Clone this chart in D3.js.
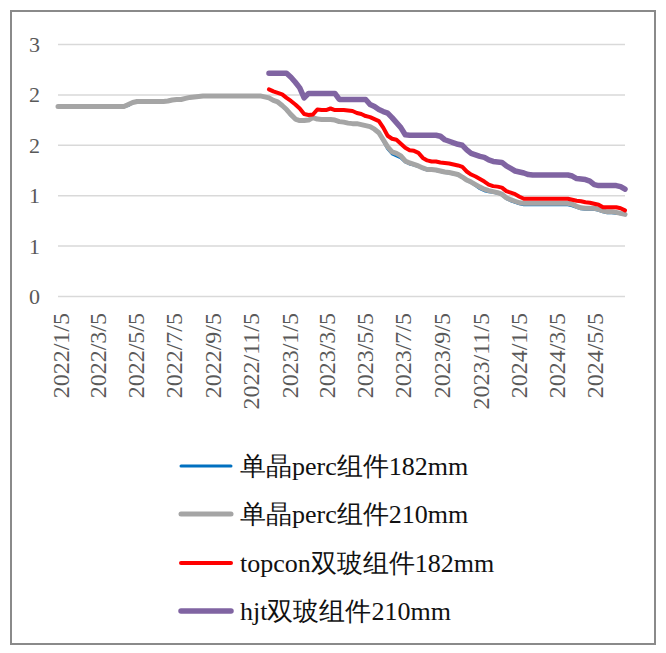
<!DOCTYPE html>
<html>
<head>
<meta charset="utf-8">
<script src="https://cdn.jsdelivr.net/npm/d3@7/dist/d3.min.js"></script>
<style>
  html, body { margin: 0; padding: 0; background: #fff; }
  svg { display: block; }
</style>
</head>
<body>
<svg id="chart" width="666" height="653"></svg>
<script>
// Weekly module prices (yuan/W), one value per Wednesday
const firstWeek = "2022-01-05";
const weekCount = 130;
const newTechStart = "2022-12-07"; // topcon / hjt quotes begin here

const seriesNames = ["单晶perc组件182mm", "单晶perc组件210mm", "topcon双玻组件182mm", "hjt双玻组件210mm"];

const perc182 = [
  1.88,1.88,1.88,1.88,1.88,1.88,1.88,1.88,1.88,1.88,
  1.88,1.88,1.88,1.88,1.88,1.88,1.89,1.92,1.93,1.93,
  1.93,1.93,1.93,1.93,1.93,1.935,1.945,1.95,1.95,1.96,
  1.97,1.975,1.98,1.985,1.985,1.985,1.985,1.985,1.985,1.985,
  1.985,1.985,1.985,1.985,1.985,1.985,1.985,1.975,1.965,1.94,
  1.925,1.89,1.845,1.79,1.755,1.74,1.74,1.745,1.77,1.755,
  1.75,1.75,1.75,1.745,1.73,1.725,1.715,1.71,1.71,1.70,
  1.69,1.68,1.655,1.62,1.54,1.46,1.41,1.39,1.37,1.33,
  1.31,1.30,1.285,1.265,1.25,1.25,1.245,1.235,1.225,1.22,
  1.21,1.20,1.175,1.145,1.125,1.095,1.065,1.045,1.035,1.03,
  1.02,1.005,0.965,0.945,0.93,0.915,0.905,0.905,0.905,0.905,
  0.905,0.905,0.905,0.905,0.905,0.905,0.905,0.895,0.88,0.865,
  0.86,0.86,0.86,0.85,0.835,0.825,0.825,0.82,0.815,0.81
];

const perc210 = [
  1.88,1.88,1.88,1.88,1.88,1.88,1.88,1.88,1.88,1.88,
  1.88,1.88,1.88,1.88,1.88,1.88,1.90,1.92,1.93,1.93,
  1.93,1.93,1.93,1.93,1.93,1.935,1.945,1.95,1.95,1.96,
  1.97,1.975,1.98,1.985,1.985,1.985,1.985,1.985,1.985,1.985,
  1.985,1.985,1.985,1.985,1.985,1.985,1.985,1.975,1.965,1.94,
  1.925,1.89,1.85,1.80,1.755,1.74,1.74,1.745,1.77,1.755,
  1.75,1.75,1.75,1.745,1.73,1.725,1.715,1.71,1.71,1.70,
  1.69,1.68,1.655,1.62,1.55,1.48,1.43,1.415,1.39,1.34,
  1.32,1.305,1.29,1.27,1.255,1.255,1.25,1.24,1.23,1.225,
  1.215,1.205,1.18,1.15,1.13,1.105,1.08,1.06,1.045,1.035,
  1.025,1.01,0.975,0.955,0.94,0.925,0.92,0.92,0.92,0.92,
  0.92,0.92,0.92,0.92,0.92,0.92,0.92,0.91,0.89,0.875,
  0.87,0.87,0.87,0.86,0.845,0.835,0.835,0.83,0.82,0.81
];

const topcon182 = [
  2.05,2.03,
  2.015,2.0,1.965,1.935,1.90,1.86,1.805,1.795,1.80,1.85,
  1.845,1.845,1.86,1.845,1.845,1.845,1.84,1.835,1.815,1.805,
  1.785,1.775,1.755,1.735,1.67,1.59,1.56,1.55,1.51,1.47,
  1.445,1.44,1.42,1.37,1.345,1.335,1.335,1.325,1.32,1.315,
  1.305,1.295,1.28,1.235,1.205,1.185,1.16,1.135,1.105,1.09,
  1.085,1.075,1.04,1.025,1.01,0.985,0.965,0.965,0.965,0.965,
  0.965,0.965,0.965,0.965,0.965,0.965,0.965,0.955,0.945,0.94,
  0.93,0.925,0.915,0.905,0.88,0.88,0.88,0.88,0.87,0.85
];

const hjt210 = [
  2.21,2.21,
  2.21,2.21,2.21,2.17,2.12,2.065,1.965,2.01,2.01,2.01,
  2.01,2.01,2.01,2.01,1.95,1.95,1.95,1.95,1.95,1.95,
  1.95,1.90,1.88,1.85,1.83,1.815,1.77,1.72,1.67,1.60,
  1.595,1.595,1.595,1.595,1.595,1.595,1.595,1.585,1.55,1.535,
  1.52,1.505,1.495,1.45,1.415,1.40,1.385,1.375,1.35,1.335,
  1.33,1.325,1.29,1.265,1.24,1.23,1.22,1.205,1.20,1.20,
  1.20,1.20,1.20,1.20,1.20,1.20,1.20,1.19,1.165,1.16,
  1.155,1.14,1.105,1.095,1.095,1.095,1.095,1.095,1.085,1.06
];

const xTickLabels = ["2022/1/5","2022/3/5","2022/5/5","2022/7/5","2022/9/5","2022/11/5",
  "2023/1/5","2023/3/5","2023/5/5","2023/7/5","2023/9/5","2023/11/5",
  "2024/1/5","2024/3/5","2024/5/5"];
const yTickValues = [0, 0.5, 1, 1.5, 2, 2.5];
const yTickLabels = ["0","1","1","2","2","3"];

const seriesColors = ["#0070C0", "#A5A5A5", "#FF0000", "#8064A2"];
const seriesWidths = [3, 5, 4, 5.5];

// ---- build point lists ----
const parseDay = d3.timeParse("%Y-%m-%d");
const parseTick = d3.timeParse("%Y/%m/%d");
const t0 = parseDay(firstWeek);
const weeks = d3.range(weekCount).map(i => d3.timeDay.offset(t0, 7 * i));
const newStartIdx = d3.timeWeek.count(t0, parseDay(newTechStart));

function toPoints(values, offset) {
  return values.map((v, i) => ({ date: weeks[i + offset], value: v }));
}
const seriesData = [
  toPoints(perc182, 0),
  toPoints(perc210, 0),
  toPoints(topcon182, newStartIdx),
  toPoints(hjt210, newStartIdx)
];

// ---- layout ----
const svg = d3.select("#chart");
const plot = { left: 58, right: 625, top: 44, bottom: 296 };
const serif = "Liberation Serif";

svg.append("rect")
  .attr("x", 11).attr("y", 11).attr("width", 644).attr("height", 633)
  .attr("fill", "#fff").attr("stroke", "#8a8a8a").attr("stroke-width", 2);

const x = d3.scaleTime()
  .domain([weeks[0], weeks[weekCount - 1]])
  .range([plot.left, plot.right]);
const y = d3.scaleLinear()
  .domain([0, 2.5])
  .range([plot.bottom, plot.top]);

// horizontal gridlines with the value axis
const yAxis = d3.axisLeft(y)
  .tickValues(yTickValues)
  .tickSize(-(plot.right - plot.left))
  .tickPadding(18)
  .tickFormat((d, i) => yTickLabels[i]);

const gy = svg.append("g")
  .attr("transform", `translate(${plot.left},0)`)
  .call(yAxis);
gy.select(".domain").remove();
gy.selectAll(".tick line").attr("stroke", "#D9D9D9").attr("stroke-width", 1.5);
gy.selectAll(".tick text")
  .attr("fill", "#595959")
  .style("font-family", serif)
  .style("font-size", "22px")
  .attr("dy", "0.34em");

// date axis, labels rotated
const xAxis = d3.axisBottom(x)
  .tickValues(xTickLabels.map(s => parseTick(s)))
  .tickSize(0)
  .tickFormat((d, i) => xTickLabels[i]);

const gx = svg.append("g")
  .attr("transform", `translate(0,${plot.bottom})`)
  .call(xAxis);
gx.select(".domain").remove();
gx.selectAll(".tick text")
  .attr("fill", "#595959")
  .style("font-family", serif)
  .style("font-size", "24px")
  .attr("text-anchor", "end")
  .attr("y", 0)
  .attr("dy", 0)
  .attr("transform", "translate(10,17) rotate(-90)");

// price lines
const line = d3.line()
  .x(d => x(d.date))
  .y(d => y(d.value));

svg.append("g")
  .selectAll("path")
  .data(seriesData)
  .join("path")
  .attr("d", line)
  .attr("fill", "none")
  .attr("stroke", (d, i) => seriesColors[i])
  .attr("stroke-width", (d, i) => seriesWidths[i])
  .attr("stroke-linejoin", "round")
  .attr("stroke-linecap", "round");

// legend
const legendRows = [466, 514, 563, 611];
const legend = svg.append("g")
  .selectAll("g")
  .data(seriesNames)
  .join("g")
  .attr("transform", (d, i) => `translate(0,${legendRows[i]})`);

legend.append("line")
  .attr("x1", 181).attr("x2", 231)
  .attr("stroke", (d, i) => seriesColors[i])
  .attr("stroke-width", (d, i) => seriesWidths[i])
  .attr("stroke-linecap", "round");

legend.append("text")
  .attr("x", 240)
  .attr("dy", 9)
  .style("font-family", serif)
  .style("font-size", "26px")
  .attr("fill", "#111")
  .text(d => d);
</script>
</body>
</html>
